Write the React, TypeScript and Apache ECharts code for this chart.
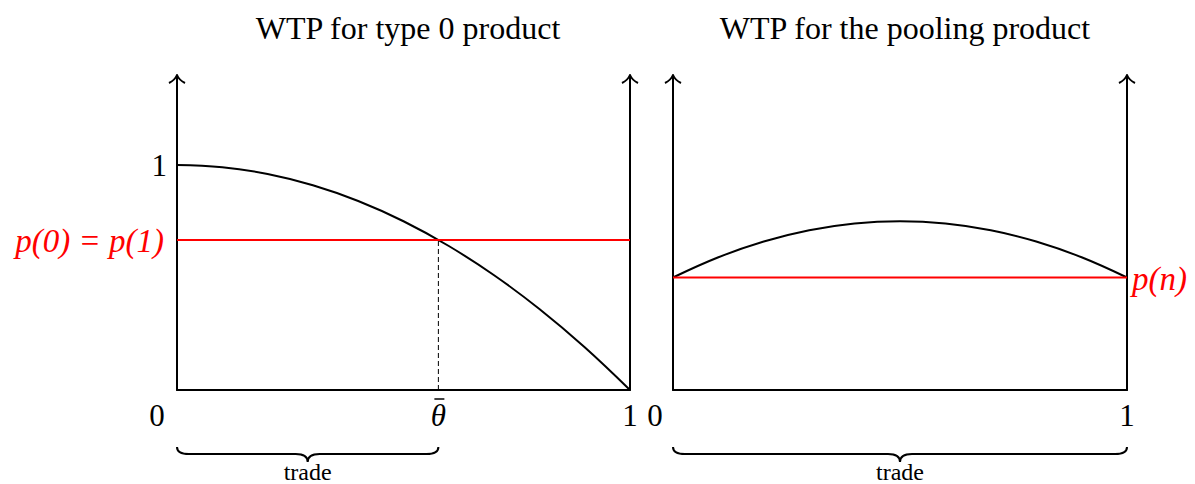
import React, { useEffect, useRef } from "react";
import * as echarts from "echarts";

// Willingness-to-pay curves over the type space [0, 1]
const thetaGrid = [0, 0.1, 0.2, 0.3, 0.4, 0.5, 0.6, 0.7, 0.8, 0.9, 1];
const typeZeroWTP = [1, 0.99, 0.96, 0.91, 0.84, 0.75, 0.64, 0.51, 0.36, 0.19, 0];
const poolingWTP = [0.5, 0.59, 0.66, 0.71, 0.74, 0.75, 0.74, 0.71, 0.66, 0.59, 0.5];

const PRICE_SEPARATE = 0.667; // p(0) = p(1)
const THETA_BAR = 0.577;
const PRICE_POOL = 0.5; // p(n)
const Y_MAX = 1.4;

const titles = ["WTP for type 0 product", "WTP for the pooling product"];
const priceLabels = ["p(0) = p(1)", "p(n)"];
const braceLabel = "trade";

const FONT = "Liberation Serif";
const RED = "#ff0000";

const braceShape = echarts.graphic.extendShape({
  shape: { x1: 0, x2: 0, y: 0, q: 7, h: 14, r: 10 },
  buildPath(ctx: any, s: any) {
    const mid = (s.x1 + s.x2) / 2;
    const yl = s.y + s.q;
    ctx.moveTo(s.x1, s.y);
    ctx.quadraticCurveTo(s.x1, yl, s.x1 + s.r, yl);
    ctx.lineTo(mid - s.r, yl);
    ctx.quadraticCurveTo(mid, yl, mid, s.y + s.h);
    ctx.quadraticCurveTo(mid, yl, mid + s.r, yl);
    ctx.lineTo(s.x2 - s.r, yl);
    ctx.quadraticCurveTo(s.x2, yl, s.x2, s.y);
  },
});
echarts.graphic.registerShape("brace", braceShape);

const zip = (xs: number[], ys: number[]) => xs.map((x, i) => [x, ys[i]]);

export default function App() {
  const ref = useRef<HTMLDivElement>(null);

  useEffect(() => {
    if (!ref.current) return;
    const chart = echarts.init(ref.current, null, { renderer: "svg" });

    const axisLine = { show: true, lineStyle: { color: "#000", width: 2 } };
    const xAxisBase = {
      type: "value",
      min: 0,
      max: 1,
      axisLine,
      axisTick: { show: false },
      axisLabel: { show: false },
      splitLine: { show: false },
    };
    const yAxisBase = {
      type: "value",
      min: 0,
      max: Y_MAX,
      axisLine,
      axisTick: { show: false },
      axisLabel: { show: false },
      splitLine: { show: false },
    };

    const lineSeries = (
      xi: number,
      yi: number,
      data: any[],
      color: string,
      width: number,
      extra: any = {}
    ) => ({
      type: "line",
      xAxisIndex: xi,
      yAxisIndex: yi,
      data,
      showSymbol: false,
      symbol: "none",
      lineStyle: { color, width },
      z: 3,
      ...extra,
    });

    const titleStyle = { fontFamily: FONT, fontSize: 32, fontWeight: "normal", color: "#000" };

    chart.setOption({
      animation: false,
      backgroundColor: "#fff",
      title: [
        { text: titles[0], left: 403, top: 7, textAlign: "center", textStyle: titleStyle },
        { text: titles[1], left: 900, top: 7, textAlign: "center", textStyle: titleStyle },
      ],
      grid: [
        { left: 177, top: 75, width: 453, height: 315 },
        { left: 673, top: 75, width: 454, height: 315 },
      ],
      xAxis: [
        { ...xAxisBase, gridIndex: 0 },
        { ...xAxisBase, gridIndex: 1 },
      ],
      yAxis: [
        {
          ...yAxisBase,
          gridIndex: 0,
          position: "left",
          interval: 1,
          axisLabel: {
            show: true,
            margin: 10,
            fontFamily: FONT,
            fontSize: 31,
            color: "#000",
            formatter: (v: number) => (v === 1 ? "1" : ""),
          },
        },
        { ...yAxisBase, gridIndex: 0, position: "right" },
        { ...yAxisBase, gridIndex: 1, position: "left" },
        { ...yAxisBase, gridIndex: 1, position: "right" },
      ],
      series: [
        lineSeries(0, 0, zip(thetaGrid, typeZeroWTP), "#000", 2, { smooth: 0.4 }),
        lineSeries(0, 0, [[0, PRICE_SEPARATE], [1, PRICE_SEPARATE]], RED, 2),
        lineSeries(0, 0, [[THETA_BAR, 0], [THETA_BAR, PRICE_SEPARATE]], "#000", 1, {
          lineStyle: { color: "#000", width: 1, type: [5, 3] },
          z: 2,
        }),
        lineSeries(1, 2, zip(thetaGrid, poolingWTP), "#000", 2, { smooth: 0.4 }),
        lineSeries(1, 2, [[0, PRICE_POOL], [1, PRICE_POOL]], RED, 2),
      ],
    });

    const px = (grid: number, x: number, y: number) =>
      chart.convertToPixel({ gridIndex: grid }, [x, y]) as number[];

    const arrow = (p: number[]) => [
      {
        type: "bezierCurve",
        shape: { x1: p[0], y1: p[1], cpx1: p[0] - 2, cpy1: p[1] + 5, x2: p[0] - 8, y2: p[1] + 8 },
        style: { stroke: "#000", lineWidth: 2, fill: "none" },
        z: 10,
      },
      {
        type: "bezierCurve",
        shape: { x1: p[0], y1: p[1], cpx1: p[0] + 2, cpy1: p[1] + 5, x2: p[0] + 8, y2: p[1] + 8 },
        style: { stroke: "#000", lineWidth: 2, fill: "none" },
        z: 10,
      },
    ];

    const text = (
      p: number[],
      s: string,
      dx: number,
      dy: number,
      opts: { size?: number; italic?: boolean; color?: string; align?: string } = {}
    ) => ({
      type: "text",
      x: p[0] + dx,
      y: p[1] + dy,
      style: {
        text: s,
        fontFamily: FONT,
        fontSize: opts.size ?? 31,
        fontStyle: opts.italic ? "italic" : "normal",
        fill: opts.color ?? "#000",
        align: opts.align ?? "center",
        verticalAlign: "middle",
      },
      z: 10,
    });

    const brace = (a: number[], b: number[]) => ({
      type: "brace",
      shape: { x1: a[0], x2: b[0], y: a[1] + 57, q: 7, h: 15, r: 12 },
      style: { stroke: "#000", lineWidth: 2, fill: "none" },
      z: 10,
    });

    const o0 = px(0, 0, 0);
    const t0 = px(0, THETA_BAR, 0);
    const e0 = px(0, 1, 0);
    const o1 = px(1, 0, 0);
    const e1 = px(1, 1, 0);
    const pSep = px(0, 0, PRICE_SEPARATE);
    const pPool = px(1, 1, PRICE_POOL);

    chart.setOption({
      graphic: [
        ...arrow(px(0, 0, Y_MAX)),
        ...arrow(px(0, 1, Y_MAX)),
        ...arrow(px(1, 0, Y_MAX)),
        ...arrow(px(1, 1, Y_MAX)),
        text(pSep, priceLabels[0], -13, 1, { size: 33, italic: true, color: RED, align: "right" }),
        text(pPool, priceLabels[1], 5, 1, { size: 33, italic: true, color: RED, align: "left" }),
        text(o0, "0", -20, 25),
        text(t0, "\u03b8", 0, 25, { italic: true }),
        {
          type: "line",
          shape: { x1: t0[0] - 4, y1: t0[1] + 9, x2: t0[0] + 6, y2: t0[1] + 9 },
          style: { stroke: "#000", lineWidth: 1.5 },
          z: 10,
        },
        text(e0, "1", 0, 25),
        text(o1, "0", -18, 25),
        text(e1, "1", 0, 25),
        brace(o0, t0),
        brace(o1, e1),
        text([(o0[0] + t0[0]) / 2, o0[1]], braceLabel, 0, 82, { size: 24 }),
        text([(o1[0] + e1[0]) / 2, o1[1]], braceLabel, 0, 82, { size: 24 }),
      ],
    });

    return () => chart.dispose();
  }, []);

  return (
    <div
      ref={ref}
      style={{ position: "absolute", left: 0, top: 0, width: 1195, height: 484 }}
    />
  );
}
